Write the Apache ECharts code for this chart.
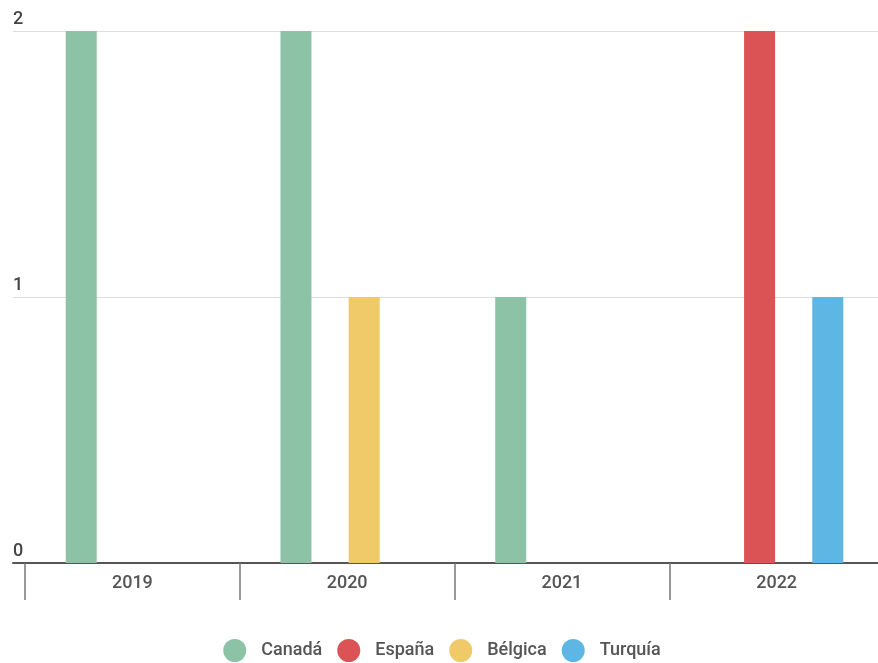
<!DOCTYPE html>
<html><head><meta charset="utf-8">
<script src="https://cdn.jsdelivr.net/npm/echarts@6/dist/echarts.min.js"></script>
<style>html,body{margin:0;padding:0;background:#fff;overflow:hidden}#c{width:884px;height:663px}</style>
</head><body><div id="c"></div>
<script>
const categories = ['2019', '2020', '2021', '2022'];
const seriesNames = ['Canadá', 'España', 'Bélgica', 'Turquía'];
const canada  = [2, 2, 1, 0];
const espana  = [0, 0, 0, 2];
const belgica = [0, 1, 0, 0];
const turquia = [0, 0, 0, 1];
const yTicks = [0, 1, 2];

const colors = ['#8cc3a6', '#dc5356', '#f0ca68', '#5db6e4'];
const values = [canada, espana, belgica, turquia];
const font = 'Roboto, "Noto Sans", sans-serif';

const chart = echarts.init(document.getElementById('c'));
chart.setOption({
  animation: false,
  color: colors,
  textStyle: { fontFamily: font },
  grid: [
    { left: 25, right: 0, top: 31, bottom: 100 },
    { left: 13, right: 6, top: 31, bottom: 100 }
  ],
  xAxis: [
    { type: 'category', gridIndex: 0, data: categories,
      axisLine: { show: false },
      axisTick: { show: true, length: 37, lineStyle: { color: '#777', width: 1.5 } },
      axisLabel: { color: '#555', fontSize: 18, fontWeight: 500, margin: 11, fontFamily: font },
      splitLine: { show: false } },
    { type: 'value', gridIndex: 1, min: 0, max: 1,
      axisLine: { show: true, onZero: false, lineStyle: { color: '#555', width: 2 } },
      axisTick: { show: false }, axisLabel: { show: false }, splitLine: { show: false } }
  ],
  yAxis: [
    { type: 'value', gridIndex: 0, min: yTicks[0], max: yTicks[yTicks.length - 1], interval: 1,
      show: false, splitLine: { show: false } },
    { type: 'value', gridIndex: 1, min: yTicks[0], max: yTicks[yTicks.length - 1], interval: 1,
      axisLine: { show: false }, axisTick: { show: false },
      axisLabel: { inside: true, margin: 0, verticalAlign: 'bottom', padding: [0, 0, 3, 0],
        color: '#444', fontSize: 18, fontWeight: 500, fontFamily: font },
      splitLine: { show: true, lineStyle: { color: '#dddddd', width: 1 } } }
  ],
  legend: {
    data: seriesNames, left: 'center', top: 634, icon: 'circle',
    itemWidth: 43, itemHeight: 23, itemGap: 15, symbolKeepAspect: true,
    textStyle: { color: '#555', fontSize: 18, fontWeight: 500, fontFamily: font }
  },
  series: seriesNames.map((n, i) => ({
    name: n, type: 'bar', xAxisIndex: 0, yAxisIndex: 0,
    barWidth: 31, barGap: '10%', data: values[i]
  }))
});
</script></body></html>
